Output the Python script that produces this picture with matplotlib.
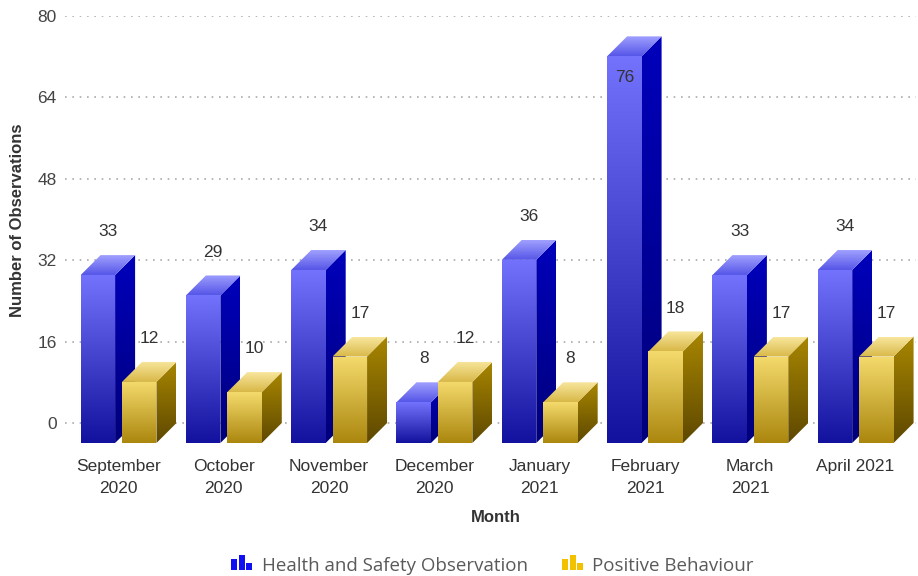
import numpy as np
import matplotlib
matplotlib.use("Agg")
import matplotlib.pyplot as plt
from matplotlib.patches import Polygon, Rectangle
from matplotlib.colors import to_rgb

months = ["September\n2020", "October\n2020", "November\n2020", "December\n2020",
          "January\n2021", "February\n2021", "March\n2021", "April 2021"]
health_safety = [33, 29, 34, 8, 36, 76, 33, 34]
positive_behaviour = [12, 10, 17, 12, 8, 18, 17, 17]
series_names = ["Health and Safety Observation", "Positive Behaviour"]
yticks = [0, 16, 32, 48, 64, 80]

W, H = 918, 576
fig = plt.figure(figsize=(W / 100, H / 100), dpi=100)
plt.rcParams['font.family'] = ['Liberation Sans', 'DejaVu Sans']

# axes geometry in pixels
ax_left, ax_right = 65, 916
ax_top, ax_bottom = 16, 445
ax = fig.add_axes([ax_left / W, 1 - ax_bottom / H, (ax_right - ax_left) / W, (ax_bottom - ax_top) / H])

cat_px = 105.3
c0_px = 118.5
xmin = (ax_left - c0_px) / cat_px
xmax = (ax_right - c0_px) / cat_px
py_per_unit = (423 - 16) / 80.0
ymin = -(ax_bottom - 423) / py_per_unit
ymax = 80

dx = 20 / cat_px
dy = 20 / py_per_unit
bw = 34.5 / cat_px

def grad_poly(verts, c_top, c_bot, z):
    verts = np.asarray(verts)
    x0, x1 = verts[:, 0].min(), verts[:, 0].max()
    y0, y1 = verts[:, 1].min(), verts[:, 1].max()
    ct, cb = np.array(to_rgb(c_top)), np.array(to_rgb(c_bot))
    t = np.linspace(0, 1, 64)[:, None]
    col = cb * (1 - t) + ct * t  # row 0 = bottom
    img = col[:, None, :]
    im = ax.imshow(img, extent=[x0, x1, y0, y1], origin='lower', aspect='auto',
                   interpolation='bilinear', zorder=z)
    poly = Polygon(verts, closed=True, facecolor='none', edgecolor='none', transform=ax.transData)
    ax.add_patch(poly)
    im.set_clip_path(poly)
    im.set_clip_on(True)

blue = dict(front=('#7272fc', '#12129e'), side=('#0000bc', '#00007a'), top=('#a0a0ff', '#5656e8'))
gold = dict(front=('#f4da6c', '#ab870e'), side=('#a88600', '#5e4800'), top=('#f8e69c', '#d8b848'))

z = 2
for i in range(len(months)):
    for vals, x_off, pal in ((health_safety, -0.36, blue), (positive_behaviour, 0.033, gold)):
        v = vals[i]
        x0 = i + x_off
        x1 = x0 + bw
        front = [(x0, -dy), (x1, -dy), (x1, v - dy), (x0, v - dy)]
        side = [(x1, -dy), (x1 + dx, 0), (x1 + dx, v), (x1, v - dy)]
        top = [(x0, v - dy), (x1, v - dy), (x1 + dx, v), (x0 + dx, v)]
        grad_poly(side, pal['side'][0], pal['side'][1], z)
        grad_poly(top, pal['top'][0], pal['top'][1], z + 0.1)
        grad_poly(front, pal['front'][0], pal['front'][1], z + 0.2)
        z += 1
        cx = (x0 + x1) / 2
        if v + 4.5 > ymax:
            ax.text(cx, v - dy - 4.1, str(v), ha='center', va='center', fontsize=12.5,
                    color='#333333', zorder=100)
        else:
            ax.text(cx + dx / 2, v + 4.6, str(v), ha='center', va='center', fontsize=12.5,
                    color='#333333', zorder=100)

ax.set_xlim(xmin, xmax)
ax.set_ylim(ymin, ymax)
ax.set_yticks(yticks)
ax.set_yticklabels([str(t) for t in yticks], fontsize=12.5, color='#444444')
ax.set_xticks(range(len(months)))
ax.set_xticklabels(months, fontsize=12.5, color='#333333', linespacing=1.6)
ax.tick_params(axis='both', length=0)
ax.tick_params(axis='y', pad=6)
ax.tick_params(axis='x', pad=10)
ax.grid(axis='y', color='#aaaaaa', linestyle=(0, (1, 3.4)), linewidth=1.2, zorder=0)
ax.set_axisbelow(True)
for s in ax.spines.values():
    s.set_visible(False)

fig.text(18 / W, 1 - 220 / H, "Number of Observations", rotation=90, ha='center', va='center',
         fontsize=12, fontweight='bold', color='#333333')
fig.text(496 / W, 1 - 517 / H, "Month", ha='center', va='center', fontsize=12,
         fontweight='bold', color='#333333')

# legend with bar-chart icons
def icon(x, color):
    bars = [(0, 6, 11), (7.5, 6, 15), (15, 6, 7)]
    for bx, bwid, bh in bars:
        fig.add_artist(Rectangle(((x + bx) / W, 1 - 570 / H), bwid / W, bh / H,
                                 transform=fig.transFigure, facecolor=color, edgecolor='none'))

icon(231, '#1010f0')
fig.text(262 / W, 1 - 566 / H, series_names[0], ha='left', va='center', fontsize=13.5,
         color='#5a5a5a', family=['Open Sans', 'DejaVu Sans'])
icon(562, '#f2c200')
fig.text(592 / W, 1 - 566 / H, series_names[1], ha='left', va='center', fontsize=13.5,
         color='#5a5a5a', family=['Open Sans', 'DejaVu Sans'])

fig.savefig("out.png", dpi=100)
